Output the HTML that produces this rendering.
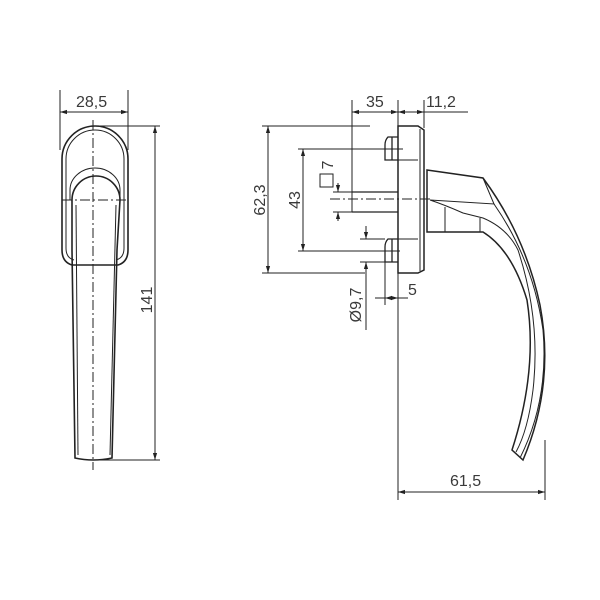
<!DOCTYPE html>
<html><head><style>body{margin:0;background:#fff}svg{display:block}text{font-family:"Liberation Sans",sans-serif;font-size:16px;fill:#3a3a3a}</style></head><body>
<svg width="600" height="600" viewBox="0 0 600 600" xmlns="http://www.w3.org/2000/svg">
<defs><marker id="a" viewBox="0 0 10 10" refX="10" refY="5" markerWidth="7" markerHeight="7" orient="auto-start-reverse"><path d="M0,2 L10,5 L0,8 z" fill="#222"/></marker></defs>
<g stroke="#222" fill="none" stroke-width="1">
<line x1="60" y1="90" x2="60" y2="150"/><line x1="128" y1="90" x2="128" y2="150"/>
<line x1="60" y1="112" x2="128" y2="112" marker-start="url(#a)" marker-end="url(#a)"/>
<line x1="93" y1="126" x2="160" y2="126"/><line x1="93" y1="460" x2="160" y2="460"/>
<line x1="155" y1="126" x2="155" y2="460" marker-start="url(#a)" marker-end="url(#a)"/>
<path stroke-width="1.6" d="M62,159 A33,33 0 0 1 128,159 L128,250 Q128,262 118,265 L72,265 Q62,262 62,250 Z"/>
<path d="M66,159 A29,29 0 0 1 124,159 L124,248 Q124,258 116,260 M66,159 L66,248 Q66,258 74,260"/>
<path d="M70,200 L70,190 A25,22 0 0 1 120,190 L120,200"/>
<path stroke-width="1.6" d="M72,200 A24,24 0 0 1 120,200 L117,250 L112,458 Q93,462 75,458 L72,250 Z"/>
<line x1="76" y1="205" x2="78" y2="455"/><line x1="116" y1="205" x2="110" y2="455"/>
<line x1="93" y1="120" x2="93" y2="470" stroke-dasharray="10,3,2,3"/>
<line x1="62" y1="200" x2="128" y2="200" stroke-dasharray="10,3,2,3"/>
<line x1="352" y1="100" x2="352" y2="212"/><line x1="398" y1="100" x2="398" y2="500"/><line x1="424" y1="100" x2="424" y2="128"/>
<line x1="352" y1="112" x2="398" y2="112" marker-start="url(#a)" marker-end="url(#a)"/>
<line x1="398" y1="112" x2="424" y2="112" marker-start="url(#a)" marker-end="url(#a)"/>
<line x1="424" y1="112" x2="468" y2="112"/>
<line x1="262" y1="126" x2="370" y2="126"/><line x1="262" y1="273" x2="365" y2="273"/>
<line x1="268" y1="126" x2="268" y2="273" marker-start="url(#a)" marker-end="url(#a)"/>
<line x1="298" y1="149" x2="403" y2="149"/><line x1="298" y1="251" x2="400" y2="251"/>
<line x1="303" y1="149" x2="303" y2="251" marker-start="url(#a)" marker-end="url(#a)"/>
<rect x="320" y="174" width="13" height="13"/>
<line x1="338" y1="183" x2="338" y2="192" marker-end="url(#a)"/><line x1="338" y1="221" x2="338" y2="212" marker-end="url(#a)"/>
<line x1="333" y1="192" x2="352" y2="192"/><line x1="333" y1="212" x2="352" y2="212"/>
<line x1="366" y1="226" x2="366" y2="239" marker-end="url(#a)"/><line x1="366" y1="330" x2="366" y2="262" marker-end="url(#a)"/>
<line x1="360" y1="239" x2="385" y2="239"/><line x1="360" y1="262" x2="385" y2="262"/>
<line x1="385" y1="262" x2="385" y2="305"/>
<line x1="375" y1="298" x2="385" y2="298"/><line x1="385" y1="298" x2="398" y2="298" marker-start="url(#a)" marker-end="url(#a)"/><line x1="398" y1="298" x2="408" y2="298"/>
<line x1="398" y1="492" x2="545" y2="492" marker-start="url(#a)" marker-end="url(#a)"/>
<line x1="545" y1="440" x2="545" y2="500"/>
<path stroke-width="1.5" d="M398,126 L418,126 L424,130 L424,270 L418,273 L398,273 Z"/>
<line x1="420" y1="129" x2="420" y2="271"/><line x1="398" y1="160" x2="418" y2="160"/><line x1="398" y1="239" x2="418" y2="239"/>
<path stroke-width="1.3" d="M398,137 L388,137 Q385,140 385,145 L385,160 L398,160 M392,137 L392,160"/>
<path stroke-width="1.3" d="M398,239 L388,239 Q385,242 385,247 L385,262 L398,262 M392,239 L392,262"/>
<path stroke-width="1.3" d="M352,192 L398,192 M352,212 L398,212"/>
<line x1="330" y1="199" x2="432" y2="199" stroke-dasharray="10,3,2,3"/>
<path stroke-width="1.5" d="M427,170 L483,178 Q525,235 540,305 Q555,385 523,460 L512,450 Q538,370 527,300 Q512,250 483,232 L427,232 Z"/>
<path d="M483,178 L494,204 L430,200 M430,200 Q445,205 463,213 L483,218 Q507,228 518,250 Q541,320 533,390 Q528,430 516,452"/>
<path d="M494,204 Q533,260 543,330 Q549,400 520,458"/>
<line x1="445" y1="207" x2="445" y2="232"/><line x1="480" y1="218" x2="480" y2="232"/>
</g>
<text x="76" y="107">28,5</text>
<text transform="translate(152,300) rotate(-90)" text-anchor="middle">141</text>
<text x="366" y="107">35</text>
<text x="426" y="107">11,2</text>
<text transform="translate(265,200) rotate(-90)" text-anchor="middle">62,3</text>
<text transform="translate(300,200) rotate(-90)" text-anchor="middle">43</text>
<text transform="translate(333,165) rotate(-90)" text-anchor="middle">7</text>
<text transform="translate(361,305) rotate(-90)" text-anchor="middle">Ø9,7</text>
<text x="408" y="295">5</text>
<text x="450" y="486">61,5</text>
</svg>
</body></html>
